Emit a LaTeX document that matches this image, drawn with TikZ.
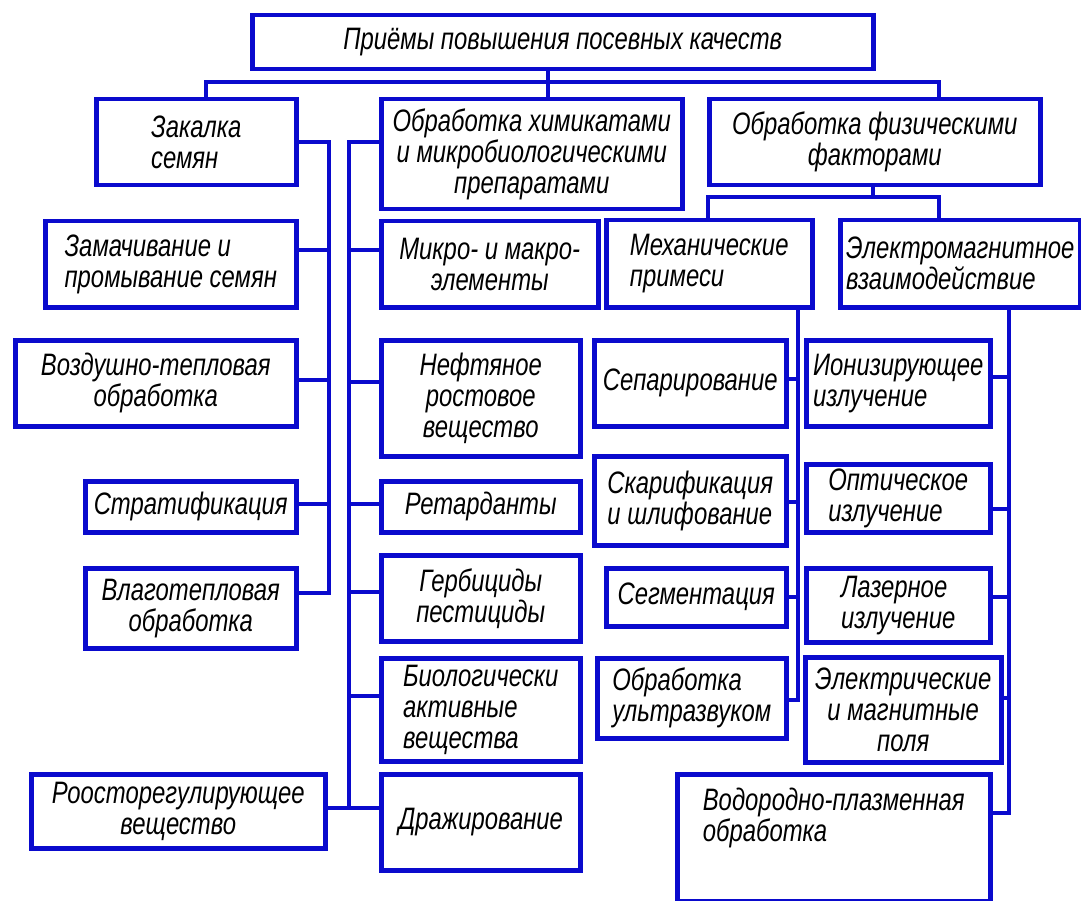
\documentclass[tikz,border=0pt]{standalone}
\usepackage{fontspec}
\setmainfont{Liberation Sans}[FakeStretch=0.77]
\usetikzlibrary{calc}
\definecolor{bl}{RGB}{10,10,205}
\tikzset{
  box/.style={draw=bl, line width=4.5pt, fill=white, inner sep=0pt, text=black,
    font=\fontsize{31}{31}\selectfont\itshape},
  wire/.style={draw=bl, line width=3.8pt, line join=miter},
}
\newcommand\bx[7][center]{\node[box, align=#1, anchor=north west,
  minimum width={#4-#2}, minimum height={#5-#3}] (#6) at (#2,#3) {#7};}
\begin{document}
\begin{tikzpicture}[x=1pt,y=-1pt]
\fill[white] (0,0) rectangle (1081,901);
\useasboundingbox (0,0) rectangle (1081,901);
% coordinates of trunks and buses
\coordinate (busL) at (206,82);
\coordinate (busM) at (548,82);
\coordinate (busR) at (939,82);
\coordinate (pb) at (873,197);
\coordinate (sbL) at (708,197);
\coordinate (sbR) at (939,197);
\coordinate (tA) at (329,0);
\coordinate (tB) at (349,0);
\coordinate (tC) at (798,0);
\coordinate (tD) at (1009,0);
% boxes
\bx{250}{13}{871}{67}{top}{Приёмы повышения посевных качеств}
\bx[left]{94}{97}{294}{183}{zak}{Закалка\\семян\hspace*{10pt}}
\bx{379}{97}{680}{207}{chem}{Обработка химикатами\\и микробиологическими\\препаратами}
\bx{707}{97}{1038}{183}{phys}{Обработка физическими\\факторами}
\bx[left]{43}{219}{294}{305}{zam}{Замачивание и\\промывание семян}
\bx{379}{219}{596}{305}{mikro}{Микро- и макро-\\элементы}
\bx[left]{604}{218}{810}{305}{mech}{Механические\\примеси}
\bx[left]{838}{218}{1078}{305}{em}{Электромагнитное\\взаимодействие}
\bx{13}{338}{294}{424}{voz}{Воздушно-тепловая\\обработка}
\bx{379}{338}{578}{454}{neft}{Нефтяное\\ростовое\\вещество}
\bx{592}{338}{784}{424}{sep}{Сепарирование}
\bx[left]{804}{338}{988}{424}{ion}{Ионизирующее\\излучение}
\bx{83}{479}{294}{530}{strat}{Стратификация}
\bx{379}{479}{578}{530}{ret}{Ретарданты}
\bx[left]{592}{454}{784}{543}{skar}{Скарификация\\и шлифование}
\bx[left]{804}{462}{988}{530}{opt}{Оптическое\\излучение}
\bx{83}{566}{294}{646}{vlag}{Влаготепловая\\обработка}
\bx{379}{553}{578}{639}{gerb}{Гербициды\\пестициды}
\bx{604}{566}{784}{624}{segm}{Сегментация}
\bx[left]{804}{566}{988}{640}{laz}{Лазерное\\излучение}
\bx[left]{379}{656}{578}{759}{bio}{Биологически\\активные\\вещества}
\bx[left]{595}{656}{784}{736}{ultra}{Обработка\\ультразвуком}
\bx{803}{655}{999}{760}{elec}{Электрические\\и магнитные\\поля}
\bx{29}{772}{323}{846}{ros}{Роосторегулирующее\\вещество}
\bx{379}{772}{578}{868}{drag}{Дражирование}
\bx[left]{675}{772}{988}{899}{vod}{Водородно-плазменная\\обработка\\[14pt]}
% top buses
\draw[wire] (zak.north -| busL) |- (busR) -- (phys.north -| busR);
\draw[wire] (top.south -| busM) -- (chem.north -| busM);
\draw[wire] (phys.south -| pb) -- (pb);
\draw[wire] (mech.north -| sbL) |- (sbR) -- (em.north -| sbR);
% trunk A
\draw[wire] (zak.east |- 0,142) -| (tA |- 0,593) -- (vlag.east |- 0,593);
\draw[wire] (zam.east |- 0,250) -- (tA |- 0,250);
\draw[wire] (voz.east |- 0,380) -- (tA |- 0,380);
\draw[wire] (strat.east |- 0,504) -- (tA |- 0,504);
% trunk B
\draw[wire] (chem.west |- 0,142) -| (tB |- 0,808) -- (drag.west |- 0,808);
\draw[wire] (ros.east |- 0,808) -- (tB |- 0,808);
\draw[wire] (mikro.west |- 0,250) -- (tB |- 0,250);
\draw[wire] (neft.west |- 0,382) -- (tB |- 0,382);
\draw[wire] (ret.west |- 0,504) -- (tB |- 0,504);
\draw[wire] (gerb.west |- 0,592) -- (tB |- 0,592);
\draw[wire] (bio.west |- 0,696) -- (tB |- 0,696);
% trunk C
\draw[wire] (mech.south -| tC) -- (tC |- 0,700) -- (ultra.east |- 0,700);
\draw[wire] (sep.east |- 0,379) -- (tC |- 0,379);
\draw[wire] (skar.east |- 0,502) -- (tC |- 0,502);
\draw[wire] (segm.east |- 0,597) -- (tC |- 0,597);
% trunk D
\draw[wire] (em.south -| tD) -- (tD |- 0,813) -- (vod.east |- 0,813);
\draw[wire] (ion.east |- 0,377) -- (tD |- 0,377);
\draw[wire] (opt.east |- 0,509) -- (tD |- 0,509);
\draw[wire] (laz.east |- 0,597) -- (tD |- 0,597);
\draw[wire] (elec.east |- 0,698) -- (tD |- 0,698);
\end{tikzpicture}
\end{document}
